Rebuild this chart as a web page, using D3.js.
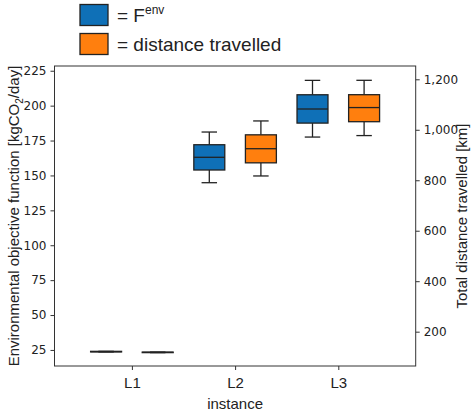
<!DOCTYPE html><html><head><meta charset="utf-8">
<script src="https://cdn.jsdelivr.net/npm/d3@7"></script>
<style>body{margin:0;background:#fff}</style></head><body>
<svg id="c" width="474" height="414"></svg>
<script>
const categories=["L1","L2","L3"];
// [low whisker, Q1, median, Q3, high whisker]
const envValues=[[23.6,23.6,23.8,24,24],[144.8,153.9,163,172,181.1],[177.5,187.5,197.6,207.8,218.1]];
const distValues=[[117,117,118,119,119],[817,869,925,980,1035],[977,1032,1088,1139,1196]];
const leftTicks=[25,50,75,100,125,150,175,200,225];
const rightTicks=[200,400,600,800,1000,1200];
const svg=d3.select("#c");
const L=54.5,R=415.7,T=66,B=366;
const x=d3.scaleLinear().domain([0.25,3.75]).range([L,R]);
const yL=d3.scaleLinear().domain([13.5,228.4]).range([B,T]);
const yR=d3.scaleLinear().domain([64,1252.7]).range([B,T]);
const f="'DejaVu Sans',sans-serif";
function axisStyle(g,fs,ff){g.selectAll("path").remove();g.selectAll("line").attr("stroke","#333");g.selectAll("text").attr("font-size",fs).attr("font-family",ff).attr("fill","#222");}
svg.append("g").attr("transform",`translate(${L},0)`).call(d3.axisLeft(yL).tickValues(leftTicks).tickSize(4).tickPadding(4)).call(g=>axisStyle(g,12,f));
svg.append("g").attr("transform",`translate(${R},0)`).call(d3.axisRight(yR).tickValues(rightTicks).tickSize(4).tickPadding(4)).call(g=>axisStyle(g,12,f));
svg.append("g").attr("transform",`translate(0,${B})`).call(d3.axisBottom(x).tickValues([1,2,3]).tickFormat((d,i)=>categories[i]).tickSize(4).tickPadding(7)).call(g=>axisStyle(g,15,"'Liberation Sans',Arial,sans-serif"));
svg.append("rect").attr("x",L).attr("y",T).attr("width",R-L).attr("height",B-T).attr("fill","none").attr("stroke","#333").attr("stroke-width",1);
function boxes(vals,y,off,col){
  vals.forEach((v,i)=>{
    const cx=x(i+1+off),w=x(0.15)-x(0),cw=x(0.075)-x(0);
    const g=svg.append("g").attr("stroke","#222").attr("stroke-width",1.3);
    g.append("line").attr("x1",cx).attr("x2",cx).attr("y1",y(v[0])).attr("y2",y(v[1]));
    g.append("line").attr("x1",cx).attr("x2",cx).attr("y1",y(v[3])).attr("y2",y(v[4]));
    g.append("line").attr("x1",cx-cw).attr("x2",cx+cw).attr("y1",y(v[0])).attr("y2",y(v[0]));
    g.append("line").attr("x1",cx-cw).attr("x2",cx+cw).attr("y1",y(v[4])).attr("y2",y(v[4]));
    g.append("rect").attr("x",cx-w).attr("width",2*w).attr("y",y(v[3])).attr("height",Math.max(0.5,y(v[1])-y(v[3]))).attr("fill",col);
    g.append("line").attr("x1",cx-w).attr("x2",cx+w).attr("y1",y(v[2])).attr("y2",y(v[2]));
  });
}
boxes(envValues,yL,-0.25,"#0f70b7");
boxes(distValues,yR,0.25,"#ff7f0e");
const af="'Liberation Sans',Arial,sans-serif";
svg.append("text").attr("x",x(2)).attr("y",409).attr("text-anchor","middle").attr("font-family",af).attr("font-size",15).attr("fill","#222").text("instance");
const lt=svg.append("text").attr("transform",`translate(19,${(T+B)/2}) rotate(-90)`).attr("text-anchor","middle").attr("font-family",af).attr("font-size",15).attr("fill","#222");
lt.append("tspan").text("Environmental objective function [kgCO");
lt.append("tspan").attr("font-size",10).attr("dy",4).text("2");
lt.append("tspan").attr("dy",-4).text("/day]");
svg.append("text").attr("transform",`translate(467,${(T+B)/2}) rotate(-90)`).attr("text-anchor","middle").attr("font-family",af).attr("font-size",15).attr("fill","#222").text("Total distance travelled [km]");
svg.append("rect").attr("x",80).attr("y",4.5).attr("width",28).attr("height",21).attr("fill","#0f70b7").attr("stroke","#222").attr("stroke-width",1.3);
svg.append("rect").attr("x",80).attr("y",33.5).attr("width",28).attr("height",21).attr("fill","#ff7f0e").attr("stroke","#222").attr("stroke-width",1.3);
const t1=svg.append("text").attr("x",117).attr("y",22).attr("font-family",af).attr("font-size",19).attr("fill","#222");
t1.append("tspan").text("= F");
t1.append("tspan").attr("font-size",12).attr("dy",-8).text("env");
svg.append("text").attr("x",117).attr("y",51).attr("font-family",af).attr("font-size",19).attr("fill","#222").text("= distance travelled");
</script></body></html>
